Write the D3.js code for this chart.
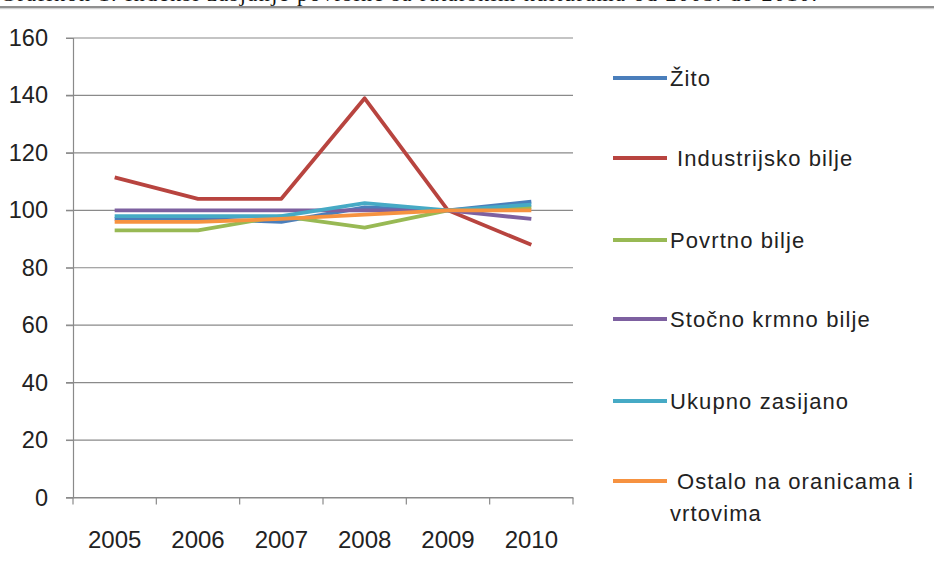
<!DOCTYPE html>
<html><head><meta charset="utf-8">
<script src="https://cdn.jsdelivr.net/npm/d3@7"></script>
<style>body{margin:0;background:#fff}svg{display:block}</style>
</head><body>
<script>
const years = ["2005","2006","2007","2008","2009","2010"];
const zito = [97, 97, 96, 101, 100, 103];
const industrijsko = [111.5, 104, 104, 139, 100, 88];
const povrtno = [93, 93, 98, 94, 100, 101];
const stocno = [100, 100, 100, 100, 100, 97];
const ukupno = [98, 98, 98, 102.5, 100, 102];
const ostalo = [96, 96, 97, 98.5, 100, 100];
const seriesNames = ["Žito","Industrijsko bilje","Povrtno bilje","Stočno krmno bilje","Ukupno zasijano","Ostalo na oranicama i vrtovima"];
const seriesColors = ["#4A7EBB","#B8443F","#98B954","#7D60A0","#46AAC5","#F69240"];
const yTicks = [0,20,40,60,80,100,120,140,160];
const captionText = "Grafikon 1. Indeksi zasjanje površine sa ratarskim kulturama od 2005. do 2010.";

const series = [zito, industrijsko, povrtno, stocno, ukupno, ostalo];
const W = 934, H = 579;
const svg = d3.select("body").append("svg").attr("width", W).attr("height", H);

// caption cut off at top
svg.append("text").attr("x", 0).attr("y", 0.6)
  .attr("font-family", "Liberation Serif, serif").attr("font-size", 22).attr("fill", "#111")
  .attr("letter-spacing", 1.5)
  .text(captionText);
svg.append("line").attr("x1",0).attr("x2",W).attr("y1",7).attr("y2",7).attr("stroke","#6b6b6b").attr("stroke-width",1.5);
svg.append("line").attr("x1",0).attr("x2",W).attr("y1",8.7).attr("y2",8.7).attr("stroke","#c8c8c8").attr("stroke-width",1);

const x0 = 73, x1 = 573;
const x = d3.scaleBand().domain(years).range([x0, x1]);
const y = d3.scaleLinear().domain([0,160]).range([497.5, 38]);

const font = "Liberation Sans, Arial, sans-serif";

// gridlines
svg.append("g").selectAll("line").data(yTicks).join("line")
  .attr("x1", x0 - 7).attr("x2", x1).attr("y1", d => y(d)).attr("y2", d => y(d))
  .attr("stroke", "#8a8a8a").attr("stroke-width", 1.2);

// y axis
const yAxis = svg.append("g").attr("transform", `translate(${x0},0)`)
  .call(d3.axisLeft(y).tickValues(yTicks).tickSize(7).tickPadding(18));
yAxis.select(".domain").attr("stroke", "#8a8a8a").attr("stroke-width", 1.2);
yAxis.selectAll(".tick line").attr("stroke", "#8a8a8a");
yAxis.selectAll("text").attr("font-family", font).attr("font-size", 23.5).attr("fill", "#222");

// x axis
const xAxis = svg.append("g").attr("transform", `translate(0,${y(0)})`)
  .call(d3.axisBottom(x).tickSize(0).tickPadding(33));
xAxis.select(".domain").attr("stroke", "#8a8a8a").attr("stroke-width", 1.2);
xAxis.selectAll("text").attr("font-family", font).attr("font-size", 24).attr("fill", "#222");
const bounds = years.map(d => x(d)).concat([x1]);
svg.append("g").selectAll("line").data(bounds).join("line")
  .attr("x1", d => d).attr("x2", d => d).attr("y1", y(0)).attr("y2", y(0) + 7)
  .attr("stroke", "#8a8a8a").attr("stroke-width", 1.2);

// lines
const line = d3.line().x((d,i) => x(years[i]) + x.bandwidth()/2).y(d => y(d));
svg.append("g").selectAll("path").data(series).join("path")
  .attr("d", d => line(d)).attr("fill", "none")
  .attr("stroke", (d,i) => seriesColors[i]).attr("stroke-width", 3.8)
  .attr("stroke-linejoin", "round");

// legend
const legY = [78, 158, 240, 319, 401, 481];
const leg = svg.append("g");
seriesNames.forEach((name, i) => {
  leg.append("line").attr("x1", 613).attr("x2", 667).attr("y1", legY[i]).attr("y2", legY[i])
    .attr("stroke", seriesColors[i]).attr("stroke-width", 3.8);
  const tx = (i === 1 || i === 5) ? 677 : 670;
  const t = leg.append("text").attr("x", tx).attr("y", legY[i] + 8)
    .attr("font-family", font).attr("font-size", 22).attr("letter-spacing", 1.1).attr("fill", "#222");
  if (i === 5) {
    t.append("tspan").attr("x", tx).text("Ostalo na oranicama i");
    t.append("tspan").attr("x", 670).attr("dy", 32).text("vrtovima");
  } else {
    t.text(name);
  }
});
</script>
</body></html>
